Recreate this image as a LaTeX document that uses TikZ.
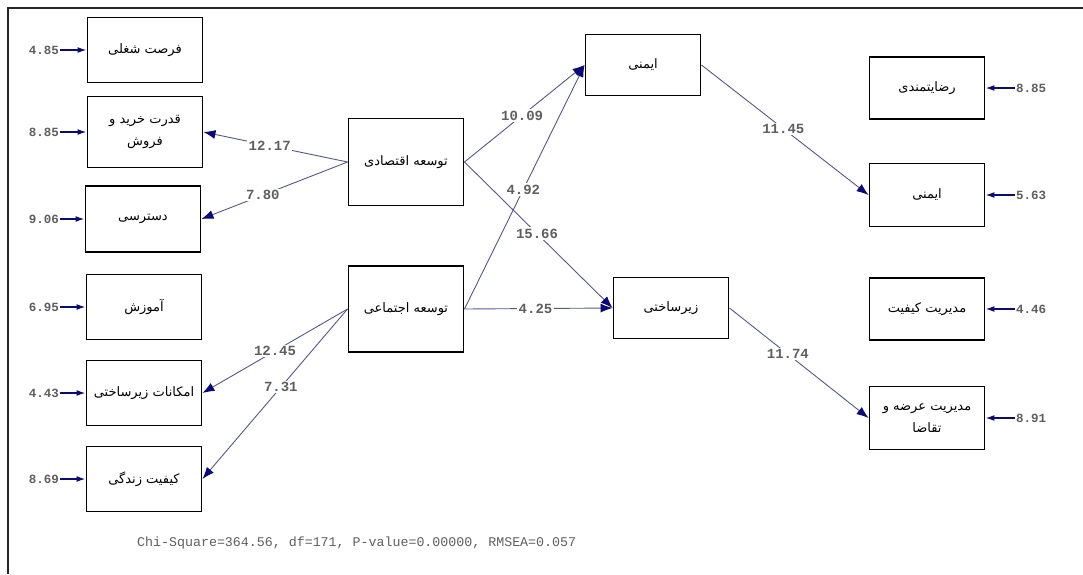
\documentclass[tikz,border=0pt]{standalone}
\usepackage{fontspec}
\usetikzlibrary{arrows.meta}
\TeXXeTstate=1
\newfontfamily\arabicfont[Script=Arabic]{DejaVu Sans}
\newfontfamily\lismono{Liberation Mono}
\definecolor{edgecol}{RGB}{85,85,150}
\definecolor{tipcol}{RGB}{10,10,120}
\definecolor{numcol}{RGB}{95,95,95}
\newcommand{\fa}[1]{\beginR #1\endR}
\begin{document}
\begin{tikzpicture}[x=1pt,y=-1pt,
  box/.style={draw, line width=1.9pt, minimum width=115pt, minimum height=63pt, inner sep=0pt, align=center, font=\arabicfont\fontsize{13}{22}\selectfont},
  errlab/.style={inner sep=1pt, text=numcol, font=\lismono\bfseries\fontsize{12.5}{12}\selectfont},
  path lab/.style={fill=white, inner sep=1.5pt, text=numcol, font=\lismono\bfseries\fontsize{14}{14}\selectfont},
  link/.style={draw=edgecol, line width=0.9pt, -{Latex[length=12pt,width=9pt,color=tipcol]}},
  errarr/.style={draw=tipcol, line width=1.5pt, -{Latex[length=9pt,width=6pt]}}
]
\useasboundingbox (0,0) rectangle (1083,574);
\fill[white] (0,0) rectangle (1083,574);
% frame
\draw[line width=2pt, black!85] (8,574) -- (8,8) -- (1083,8);

% left column
\node[box, minimum height=65pt] (forsat) at (145,50) {\fa{فرصت شغلی}};
\node[box, minimum height=71pt] (qodrat) at (145,132) {\fa{قدرت خرید و}\\ \fa{فروش}};
\node[box, minimum height=66pt] (dastrasi) at (143,219) {\fa{دسترسی}};
\node[box, minimum height=65pt] (amuzesh) at (144,307) {\fa{آموزش}};
\node[box, minimum height=65pt] (emkanat) at (144,393) {\fa{امکانات زیرساختی}};
\node[box, minimum height=65pt] (keyfiyat) at (144,479) {\fa{کیفیت زندگی}};

% middle
\node[box, minimum height=87pt] (eqtesadi) at (406,162) {\fa{توسعه اقتصادی}};
\node[box, minimum height=86pt] (ejtemaei) at (406,309) {\fa{توسعه اجتماعی}};
\node[box, minimum height=61pt] (imeni) at (643,65) {\fa{ایمنی}};
\node[box, minimum height=61pt] (zir) at (671,308) {\fa{زیرساختی}};

% right column
\node[box, minimum height=62pt] (reza) at (927,88) {\fa{رضایتمندی}};
\node[box, minimum height=63pt] (imeni2) at (927,195) {\fa{ایمنی}};
\node[box, minimum height=62pt] (modiriat) at (927,309) {\fa{مدیریت کیفیت}};
\node[box, minimum height=63pt] (arze) at (927,418) {\fa{مدیریت عرضه و}\\ \fa{تقاضا}};

% left error terms
\node[errlab] (e1) at (44,50) {4.85};
\node[errlab] (e2) at (44,132) {8.85};
\node[errlab] (e3) at (44,219) {9.06};
\node[errlab] (e4) at (44,307) {6.95};
\node[errlab] (e5) at (44,393) {4.43};
\node[errlab] (e6) at (44,479) {8.69};
\foreach \e/\b in {e1/forsat,e2/qodrat,e3/dastrasi,e4/amuzesh,e5/emkanat,e6/keyfiyat}
  \draw[errarr] (\e.east) -- (\b.west);

% right error terms
\node[errlab] (r1) at (1031,88) {8.85};
\node[errlab] (r2) at (1031,195) {5.63};
\node[errlab] (r3) at (1031,309) {4.46};
\node[errlab] (r4) at (1031,418) {8.91};
\foreach \e/\b in {r1/reza,r2/imeni2,r3/modiriat,r4/arze}
  \draw[errarr] (\e.west) -- (\b.east);

% structural paths
\draw[link] (eqtesadi.west) -- node[path lab, pos=0.54] {12.17} (qodrat.east);
\draw[link] (eqtesadi.west) -- node[path lab, pos=0.58] {7.80} (dastrasi.east);
\draw[link] (eqtesadi.east) -- node[path lab, pos=0.48] {10.09} (imeni.west);
\draw[link] (eqtesadi.east) -- node[path lab, pos=0.49] {15.66} (zir.west);
\draw[link] (ejtemaei.east) -- node[path lab, pos=0.49] {4.92} (imeni.west);
\draw[link] (ejtemaei.east) -- node[path lab, pos=0.48] {4.25} (zir.west);
\draw[link] (ejtemaei.west) -- node[path lab, pos=0.5] {12.45} (emkanat.east);
\draw[link] (ejtemaei.west) -- node[path lab, pos=0.46] {7.31} (keyfiyat.east);
\draw[link] (imeni.east) -- node[path lab, pos=0.49] {11.45} (imeni2.west);
\draw[link] (zir.east) -- node[path lab, pos=0.42] {11.74} (arze.west);

% fit statistics
\node[anchor=west, inner sep=0pt, text=numcol, font=\lismono\fontsize{13.3}{14}\selectfont] (fit) at (137,543) {Chi-Square=364.56, df=171, P-value=0.00000, RMSEA=0.057};
\end{tikzpicture}
\end{document}
